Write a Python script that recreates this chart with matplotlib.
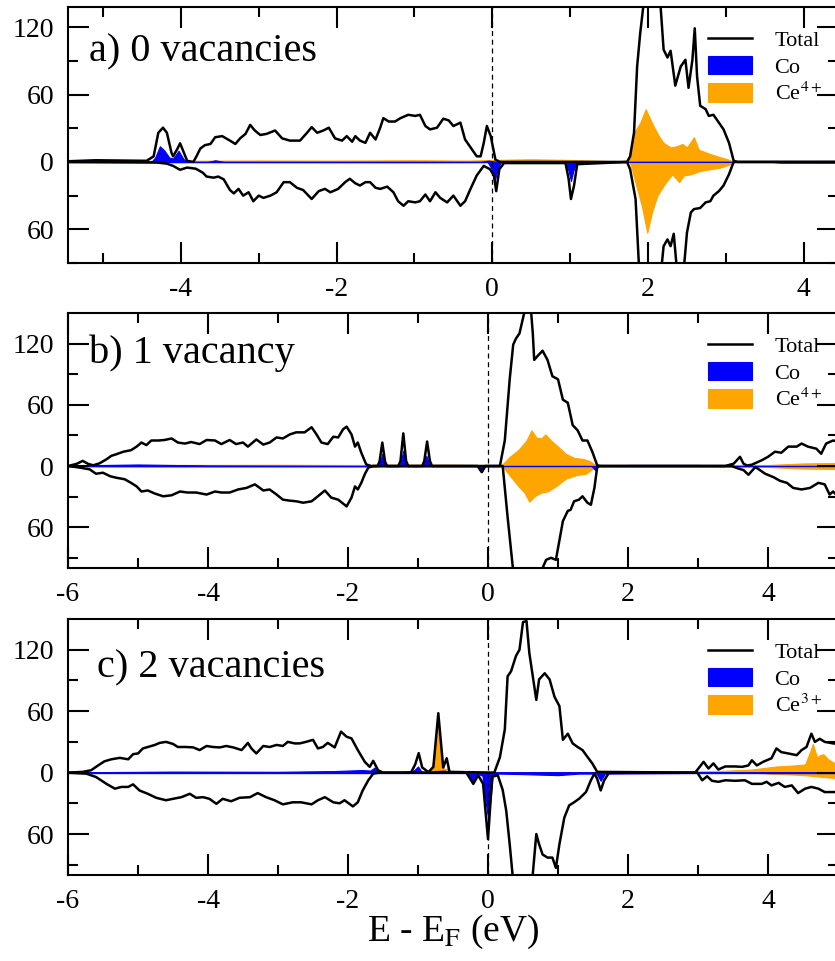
"""Spin-resolved DOS for CeO2 slab with Co: 0, 1 and 2 oxygen vacancies."""

import numpy as np
import matplotlib.pyplot as plt
from matplotlib import rcParams
from matplotlib.ticker import MultipleLocator, FixedLocator

rcParams.update({
    "font.family": ["Liberation Serif", "DejaVu Serif"],
    "mathtext.fontset": "stix",
    "axes.unicode_minus": False,
    "font.size": 20,
    "axes.linewidth": 1.5,
})

# ---- (a) 0 vacancies : (E, DOS) pairs ----
a_tot_up = np.array([
    (-5.45, 0.6), (-5.1, 1.5), (-4.44, 1.0), (-4.35, 5), (-4.29, 26), (-4.23, 30.5), (-4.18, 26),
    (-4.12, 8), (-4.10, 5), (-4.05, 11), (-4.01, 16.6), (-3.96, 8), (-3.92, 1), (-3.84, 0),
    (-3.80, 5), (-3.75, 12), (-3.69, 15), (-3.62, 16), (-3.56, 22), (-3.47, 23), (-3.37, 19),
    (-3.30, 16), (-3.24, 21), (-3.17, 25), (-3.11, 33), (-3.05, 28), (-2.98, 24), (-2.90, 25),
    (-2.79, 28), (-2.70, 21), (-2.60, 19), (-2.47, 19), (-2.38, 26), (-2.32, 31), (-2.25, 26),
    (-2.17, 28), (-2.10, 30.5), (-2.02, 21), (-1.93, 19), (-1.87, 23), (-1.80, 18), (-1.76, 23),
    (-1.70, 19), (-1.63, 17), (-1.57, 26), (-1.50, 20), (-1.44, 30.5), (-1.40, 39), (-1.33, 36),
    (-1.25, 36), (-1.18, 39), (-1.08, 42), (-0.99, 41), (-0.93, 42), (-0.86, 32), (-0.80, 29),
    (-0.71, 30.5), (-0.63, 38.5), (-0.56, 37), (-0.50, 32), (-0.41, 35), (-0.35, 20), (-0.28, 13),
    (-0.20, 5), (-0.15, 5), (-0.11, 17), (-0.07, 32), (-0.02, 23), (0.04, 2), (0.10, 0),
    (1.73, 0), (1.77, 5), (1.82, 26), (1.86, 85), (1.90, 115), (1.95, 145), (2.02, 175),
    (2.09, 165), (2.16, 140), (2.20, 100), (2.25, 93), (2.29, 99), (2.35, 68), (2.42, 85),
    (2.48, 91), (2.52, 66), (2.57, 91), (2.60, 119), (2.63, 76), (2.67, 50), (2.74, 47),
    (2.78, 41), (2.84, 42), (2.91, 35), (2.97, 29), (3.04, 17), (3.10, 1), (3.15, 0), (4.5, 0),
])
a_tot_dn = np.array([
    (-5.45, 0), (-4.31, -0.5), (-4.18, -1.5), (-4.10, -3.5), (-4.01, -7), (-3.92, -5), (-3.81, -6),
    (-3.72, -9.5), (-3.67, -13), (-3.58, -14), (-3.52, -13), (-3.45, -15.5), (-3.37, -25),
    (-3.32, -28), (-3.26, -24), (-3.20, -30), (-3.13, -27), (-3.07, -35), (-3.00, -30),
    (-2.94, -32), (-2.85, -30), (-2.77, -27), (-2.68, -18), (-2.60, -18), (-2.51, -23),
    (-2.43, -25), (-2.32, -33), (-2.23, -26), (-2.15, -24), (-2.08, -27), (-1.98, -24),
    (-1.89, -18), (-1.83, -15), (-1.76, -19), (-1.70, -21), (-1.63, -18), (-1.57, -18),
    (-1.50, -23), (-1.44, -24), (-1.35, -22), (-1.27, -27), (-1.21, -35), (-1.14, -39),
    (-1.08, -35), (-0.99, -36), (-0.93, -35), (-0.86, -29), (-0.80, -35), (-0.73, -27),
    (-0.67, -32), (-0.58, -36), (-0.50, -30), (-0.41, -39), (-0.35, -35), (-0.28, -24),
    (-0.20, -12), (-0.11, -3.5), (-0.03, -6.5), (0.02, -12), (0.05, -26), (0.09, -6.5),
    (0.15, -1), (0.94, -1), (0.98, -15), (1.01, -33), (1.05, -21), (1.09, -2), (1.73, 0),
    (1.77, -6.5), (1.84, -33), (1.88, -88), (1.93, -130), (2.00, -150), (2.08, -135),
    (2.15, -110), (2.20, -75), (2.25, -69), (2.29, -75), (2.33, -64), (2.37, -95), (2.42, -110),
    (2.46, -95), (2.50, -63), (2.55, -45), (2.59, -42), (2.67, -41), (2.74, -36), (2.80, -35),
    (2.84, -30), (2.91, -26), (2.97, -21), (3.04, -11), (3.10, 0), (4.5, 0),
])
a_co_up = np.array([
    (-5.45, 0), (-4.38, 0), (-4.33, 4), (-4.27, 14), (-4.21, 10), (-4.15, 4), (-4.10, 3),
    (-4.03, 10), (-3.97, 3), (-3.93, 0), (-3.65, 0), (-3.56, 1.5), (-3.45, 0), (-0.15, 0),
    (-0.05, 1.2), (0.05, 0), (4.5, 0),
])
a_co_dn = np.array([
    (-5.45, 0), (-0.06, 0), (-0.01, -6), (0.03, -17), (0.07, -6), (0.11, 0), (0.94, 0),
    (0.98, -8), (1.01, -17), (1.04, -8), (1.08, 0), (3.6, 0), (3.7, -0.6), (4.5, -0.6),
])
a_ce_up = np.array([
    (-5.45, 0.5), (-5.0, 1.2), (-4.0, 1.0), (-3.0, 1.3), (-2.0, 1.2), (-1.0, 1.5), (-0.3, 1.2),
    (0.0, 1.8), (0.5, 2.4), (1.0, 1.8), (1.5, 0.8), (1.75, 0.5), (1.82, 26), (1.90, 35),
    (1.97, 47), (2.01, 41), (2.07, 32), (2.14, 23), (2.20, 17), (2.29, 13), (2.37, 14),
    (2.44, 16), (2.50, 13), (2.59, 22), (2.65, 11), (2.76, 8), (2.89, 5), (3.02, 2.4),
    (3.10, 0), (4.5, 0),
])
a_ce_dn = np.array([
    (-5.45, -0.5), (-1.0, -0.8), (0.0, -0.5), (1.0, -0.8), (1.77, -0.5), (1.86, -24),
    (1.92, -39), (1.99, -63), (2.05, -45), (2.12, -30), (2.20, -21), (2.31, -11), (2.40, -18),
    (2.46, -12), (2.55, -11), (2.67, -8), (2.80, -6.5), (2.93, -5), (3.06, -2), (3.12, 0),
    (4.5, 0),
])

# ---- (b) 1 vacancy ----
b_tot_up = np.array([
    (-6.0, 0), (-5.88, 2), (-5.79, 5), (-5.71, 2), (-5.64, 0.7), (-5.55, 2.6), (-5.45, 6.6),
    (-5.38, 10), (-5.31, 11.5), (-5.21, 14), (-5.10, 15.5), (-5.02, 19), (-4.95, 23),
    (-4.88, 20.5), (-4.81, 25), (-4.71, 25), (-4.62, 25.5), (-4.52, 27), (-4.43, 23),
    (-4.33, 22), (-4.24, 23.5), (-4.12, 21.5), (-4.02, 25.5), (-3.90, 25), (-3.81, 21.5),
    (-3.69, 25.5), (-3.60, 21.5), (-3.50, 23), (-3.43, 19), (-3.31, 26), (-3.21, 21),
    (-3.12, 23), (-3.02, 28), (-2.93, 27), (-2.83, 31), (-2.74, 33), (-2.62, 33), (-2.52, 38),
    (-2.45, 31), (-2.38, 23), (-2.29, 21.5), (-2.21, 28.7), (-2.14, 28), (-2.07, 36),
    (-2.02, 38.6), (-1.95, 31), (-1.90, 19), (-1.86, 23), (-1.81, 13), (-1.74, 1.6),
    (-1.67, 0), (-1.58, 0), (-1.55, 4), (-1.51, 23), (-1.47, 4), (-1.44, 0), (-1.28, 0),
    (-1.25, 5), (-1.21, 32), (-1.17, 5), (-1.14, 0), (-0.94, 0), (-0.91, 5), (-0.87, 24),
    (-0.83, 5), (-0.80, 0), (0.17, 0), (0.24, 25), (0.31, 85), (0.36, 119), (0.40, 125),
    (0.45, 130), (0.50, 145), (0.55, 160), (0.60, 165), (0.64, 130), (0.66, 104), (0.71, 108),
    (0.78, 113), (0.85, 104), (0.92, 88), (1.00, 85), (1.07, 65), (1.14, 62), (1.21, 40),
    (1.28, 35), (1.35, 25), (1.42, 25), (1.49, 14), (1.56, 0.7), (1.61, 0), (3.39, 0),
    (3.51, 2.3), (3.60, 9), (3.65, 2.3), (3.70, 0.5), (3.77, 1.3), (3.91, 5.6), (4.00, 9),
    (4.10, 14), (4.19, 13), (4.29, 19), (4.41, 19), (4.48, 22), (4.57, 19), (4.69, 17),
    (4.76, 12), (4.83, 22), (4.93, 25), (5.0, 24),
])
b_tot_dn = np.array([
    (-6.0, 0), (-5.83, -1.6), (-5.69, -3.3), (-5.60, -7.6), (-5.50, -6.6), (-5.40, -10),
    (-5.31, -11.5), (-5.19, -13), (-5.10, -16.5), (-5.02, -20), (-4.95, -25), (-4.86, -24),
    (-4.76, -27), (-4.64, -29.7), (-4.52, -28.7), (-4.40, -25), (-4.29, -26), (-4.17, -26),
    (-4.02, -28), (-3.90, -25), (-3.81, -26), (-3.69, -26), (-3.57, -23), (-3.45, -21.5),
    (-3.33, -18), (-3.21, -24), (-3.12, -23), (-3.02, -28), (-2.93, -33), (-2.83, -34),
    (-2.74, -34.6), (-2.64, -36), (-2.52, -34.6), (-2.43, -29.7), (-2.33, -24), (-2.24, -31),
    (-2.14, -33), (-2.02, -39.6), (-1.95, -31), (-1.90, -20), (-1.86, -23), (-1.81, -16.5),
    (-1.76, -8), (-1.71, -1.6), (-1.64, 0), (-0.15, 0), (-0.09, -6), (-0.04, 0), (0.21, 0),
    (0.28, -50), (0.36, -103), (0.45, -140), (0.55, -160), (0.65, -140), (0.74, -110),
    (0.78, -100), (0.83, -92), (0.90, -90), (0.97, -92), (1.02, -73), (1.07, -54), (1.14, -44),
    (1.18, -43), (1.23, -34.6), (1.30, -33), (1.35, -29.7), (1.42, -36), (1.47, -38),
    (1.52, -21.5), (1.56, -1), (1.60, 0), (3.48, 0), (3.58, -2.6), (3.65, -4), (3.72, -8.6),
    (3.82, -1), (3.96, -7.6), (4.08, -11), (4.17, -14.5), (4.27, -16.5), (4.36, -21.5),
    (4.48, -23), (4.60, -21.5), (4.72, -16.5), (4.81, -18), (4.88, -28), (4.93, -25), (5.0, -30),
])
b_co_up = np.array([
    (-6.0, 0), (-5.7, 0.8), (-5.0, 1.5), (-4.5, 1.0), (-4.0, 0.5), (-1.7, 0), (-1.56, 0),
    (-1.51, 12), (-1.46, 0), (-1.26, 0), (-1.21, 15), (-1.16, 0), (-0.93, 0), (-0.88, 10),
    (-0.83, 0), (1.7, 0), (2.0, 1.0), (3.0, 1.0), (3.3, 0), (5.0, 0),
])
b_co_dn = np.array([
    (-6.0, 0), (-0.15, 0), (-0.09, -6), (-0.04, 0), (1.48, 0), (1.53, -4), (1.58, 0), (5.0, 0),
])
b_ce_up = np.array([
    (-6.0, 0.5), (-5.0, 1.0), (-3.0, 1.2), (-2.0, 1.0), (-0.5, 1.2), (0.19, 0.5), (0.31, 9),
    (0.43, 15.5), (0.55, 25), (0.62, 35), (0.69, 28), (0.76, 27), (0.82, 31), (0.90, 25),
    (1.00, 19), (1.11, 12), (1.23, 8), (1.35, 7), (1.45, 5), (1.54, 0.5), (3.0, 0.8),
    (4.0, 1.0), (4.5, 2.5), (5.0, 3),
])
b_ce_dn = np.array([
    (-6.0, -0.5), (-3.0, -1.0), (-1.0, -0.8), (0.21, -0.5), (0.33, -11), (0.45, -21),
    (0.52, -26), (0.59, -35), (0.66, -30), (0.76, -26), (0.85, -25), (0.97, -20),
    (1.11, -12.5), (1.26, -9), (1.40, -7.6), (1.54, -0.5), (4.0, -1.0), (4.5, -2.5), (5.0, -3),
])

# ---- (c) 2 vacancies ----
c_tot_up = np.array([
    (-6.0, 0), (-5.79, 0.7), (-5.67, 2.3), (-5.57, 7), (-5.48, 11), (-5.38, 13), (-5.26, 14.4),
    (-5.14, 13), (-5.07, 18), (-5.00, 18.7), (-4.93, 23.6), (-4.86, 25), (-4.76, 27),
    (-4.69, 29), (-4.60, 30), (-4.50, 28), (-4.43, 25), (-4.31, 25), (-4.21, 24.6),
    (-4.12, 22), (-4.02, 26), (-3.93, 25), (-3.83, 24.6), (-3.74, 26), (-3.64, 24.6),
    (-3.52, 22), (-3.43, 29), (-3.38, 23.6), (-3.31, 18.7), (-3.21, 26), (-3.12, 25),
    (-3.02, 27), (-2.93, 26), (-2.86, 30), (-2.76, 28.5), (-2.69, 28.5), (-2.60, 30),
    (-2.50, 32), (-2.43, 23.6), (-2.36, 25), (-2.29, 29), (-2.19, 24.6), (-2.10, 40),
    (-2.02, 35), (-1.95, 33.4), (-1.86, 22), (-1.76, 10.5), (-1.69, 5.6), (-1.64, 11.5),
    (-1.57, 2.3), (-1.50, 0), (-1.10, 0), (-1.04, 8), (-0.99, 19), (-0.94, 5), (-0.85, 0.5),
    (-0.78, 5.6), (-0.71, 58), (-0.64, 5), (-0.59, 14), (-0.55, 0.7), (0.09, 0), (0.17, 15),
    (0.24, 42), (0.28, 94), (0.33, 99), (0.40, 114), (0.45, 120), (0.50, 147), (0.55, 148),
    (0.59, 117), (0.69, 71), (0.73, 91), (0.81, 97), (0.88, 91), (0.95, 74), (1.02, 65),
    (1.07, 32), (1.14, 38), (1.21, 28.5), (1.28, 25), (1.35, 22), (1.42, 15.4), (1.49, 9),
    (1.56, 0.7), (2.96, 0), (3.08, 10.5), (3.15, 4), (3.22, 9), (3.29, 3), (3.39, 6),
    (3.53, 6), (3.63, 5.6), (3.72, 7), (3.77, 12), (3.84, 7), (3.93, 10.5), (4.05, 14),
    (4.12, 23.6), (4.19, 20), (4.29, 18.7), (4.41, 17), (4.48, 22), (4.55, 25), (4.62, 38),
    (4.67, 30), (4.74, 33), (4.81, 30), (4.93, 28.5), (5.0, 28),
])
c_tot_dn = np.array([
    (-6.0, 0), (-5.74, -1), (-5.60, -4.3), (-5.45, -11), (-5.33, -15.7), (-5.24, -14),
    (-5.14, -14), (-5.07, -11.5), (-4.98, -17.4), (-4.86, -20.7), (-4.74, -24.6), (-4.60, -27),
    (-4.50, -25.6), (-4.38, -24), (-4.26, -20.7), (-4.17, -24.6), (-4.07, -24), (-3.98, -25.6),
    (-3.88, -30.5), (-3.79, -25.6), (-3.67, -28), (-3.55, -24.6), (-3.40, -24), (-3.29, -20),
    (-3.17, -24), (-3.05, -27), (-2.93, -31), (-2.79, -29), (-2.67, -29), (-2.52, -31),
    (-2.43, -27), (-2.33, -24), (-2.21, -29), (-2.12, -30), (-2.05, -27), (-1.93, -33),
    (-1.86, -29), (-1.79, -17.4), (-1.71, -7.5), (-1.64, -1), (-1.55, 0), (-0.31, 0),
    (-0.21, -11), (-0.14, -2.6), (-0.07, -11), (0.0, -65), (0.06, -4), (0.14, -2.6),
    (0.21, -17), (0.26, -37), (0.31, -70), (0.35, -99), (0.42, -130), (0.50, -140),
    (0.58, -120), (0.64, -99), (0.69, -60), (0.73, -70), (0.78, -80), (0.85, -83), (0.92, -83),
    (0.97, -93), (1.02, -70), (1.09, -44), (1.16, -32), (1.23, -29), (1.30, -25.6), (1.40, -19),
    (1.47, -7.5), (1.52, -1), (1.56, -6), (1.61, -17.4), (1.66, -7.5), (1.73, 0), (2.99, 0),
    (3.06, -7.5), (3.13, -3.6), (3.20, -8), (3.29, -9), (3.39, -7.5), (3.53, -8), (3.67, -7.5),
    (3.77, -11), (3.91, -11), (3.98, -9), (4.05, -12.5), (4.15, -10), (4.24, -14),
    (4.34, -12.5), (4.43, -20), (4.53, -15.7), (4.62, -14), (4.72, -15.7), (4.81, -19),
    (4.93, -19), (5.0, -19),
])
c_co_up = np.array([
    (-6.0, 0), (-5.5, 0.5), (-4.5, 1.0), (-3.0, 0.8), (-2.2, 1.5), (-1.8, 2.5), (-1.68, 2),
    (-1.62, 5), (-1.56, 0.5), (-1.2, 0.5), (-1.06, 2), (-1.0, 6), (-0.95, 1), (-0.85, 0.5),
    (-0.75, 1.5), (-0.62, 2), (-0.55, 0), (5.0, 0),
])
c_co_dn = np.array([
    (-6.0, -0.5), (-0.30, -0.5), (-0.22, -8), (-0.15, -1), (-0.08, -3), (-0.03, -30),
    (0.0, -44), (0.03, -30), (0.07, -2), (0.15, -1), (0.5, -1.5), (1.0, -2.5), (1.3, -1),
    (1.55, -1), (1.61, -8), (1.67, -1), (3.0, -0.5), (5.0, -0.5),
])
c_ce_up = np.array([
    (-6.0, 0), (-1.0, 0.3), (-0.82, 0.5), (-0.76, 20), (-0.72, 55), (-0.68, 25), (-0.63, 3),
    (-0.58, 4), (-0.53, 0), (1.6, 0), (2.0, 1.0), (2.8, 1.0), (3.3, 1.5), (3.77, 3), (4.12, 6),
    (4.38, 7), (4.53, 8), (4.60, 20), (4.64, 28), (4.70, 15), (4.74, 17), (4.79, 18),
    (4.86, 13), (4.93, 10), (5.0, 9),
])
c_ce_dn = np.array([
    (-6.0, 0), (3.8, 0), (4.0, -1), (4.4, -2), (4.6, -3), (4.9, -5), (5.0, -5),
])

panel_titles = ["a) 0 vacancies", "b) 1 vacancy", "c) 2 vacancies"]
ce_labels = ["Ce$^{4+}$", "Ce$^{4+}$", "Ce$^{3+}$"]
y_ticks = [-60, 0, 60, 120]
y_ticklabels = ["60", "0", "60", "120"]

# ---- layout (pixels of the 835x961 figure) ----
W_PX, H_PX = 835, 961
LEFT, RIGHT = 68, 838
panel_top = [7, 313, 619]
panel_bot = [263, 568, 875]
xlims = [(-5.45, 4.44), (-6.0, 5.0), (-6.0, 5.0)]
ylims = [(-90, 138), (-100, 150), (-100, 150)]
title_pos = [(0.027, 0.786), (0.027, 0.804), (0.038, 0.77)]

data = [
    (a_tot_up, a_tot_dn, a_co_up, a_co_dn, a_ce_up, a_ce_dn),
    (b_tot_up, b_tot_dn, b_co_up, b_co_dn, b_ce_up, b_ce_dn),
    (c_tot_up, c_tot_dn, c_co_up, c_co_dn, c_ce_up, c_ce_dn),
]

BLUE = "#0000ff"
ORANGE = "#ffa500"

fig = plt.figure(figsize=(W_PX / 100, H_PX / 100), dpi=100)

for i, (tot_up, tot_dn, co_up, co_dn, ce_up, ce_dn) in enumerate(data):
    rect = [LEFT / W_PX, (H_PX - panel_bot[i]) / H_PX,
            (RIGHT - LEFT) / W_PX, (panel_bot[i] - panel_top[i]) / H_PX]
    ax = fig.add_axes(rect)

    # Ce, then Co, then the total on top
    ax.fill_between(ce_up[:, 0], 0, ce_up[:, 1], color=ORANGE, lw=0.8, label=ce_labels[i])
    ax.fill_between(ce_dn[:, 0], 0, ce_dn[:, 1], color=ORANGE, lw=0.8)
    ax.fill_between(co_up[:, 0], 0, co_up[:, 1], color=BLUE, lw=0.8, label="Co")
    ax.fill_between(co_dn[:, 0], 0, co_dn[:, 1], color=BLUE, lw=0.8)
    ax.plot(tot_up[:, 0], tot_up[:, 1], color="black", lw=1.8, label="Total")
    ax.plot(tot_dn[:, 0], tot_dn[:, 1], color="black", lw=1.8)
    ax.axvline(0, color="black", lw=0.9, ls=(0, (4, 3)))

    ax.set_xlim(*xlims[i])
    ax.set_ylim(*ylims[i])
    ax.xaxis.set_major_locator(MultipleLocator(2))
    ax.xaxis.set_minor_locator(MultipleLocator(1))
    ax.yaxis.set_major_locator(FixedLocator(y_ticks))
    ax.set_yticklabels(y_ticklabels)
    ax.yaxis.set_minor_locator(FixedLocator([-90, -30, 30, 90]))
    ax.tick_params(which="both", direction="in", top=True, right=True, width=1.5)
    ax.tick_params(which="major", length=15, pad=10, labelsize=20)
    ax.tick_params(which="minor", length=7)

    ax.text(title_pos[i][0], title_pos[i][1], panel_titles[i], transform=ax.transAxes,
            fontsize=29, va="baseline", ha="left")

    h, l = ax.get_legend_handles_labels()
    order = [2, 1, 0]
    ax.legend([h[k] for k in order], [l[k] for k in order], loc="upper left",
              bbox_to_anchor=(0.831, 0.913), frameon=False, fontsize=16,
              borderpad=0, borderaxespad=0, handlelength=2.0, handletextpad=1.0,
              handleheight=0.9, labelspacing=0.22)

fig.text(453 / W_PX, (H_PX - 941) / H_PX, r"E - E$_\mathrm{F}$ (eV)", fontsize=27,
         ha="center", va="baseline")

plt.savefig("out.png", dpi=100)
plt.close()
